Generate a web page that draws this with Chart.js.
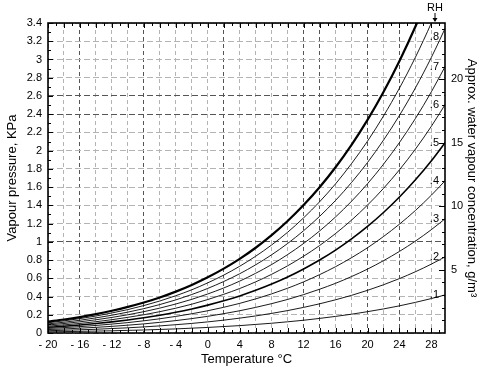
<!DOCTYPE html>
<html>
<head>
<meta charset="utf-8">
<script src="https://cdn.jsdelivr.net/npm/chart.js@4.4.0/dist/chart.umd.min.js"></script>
<style>
  html, body { margin: 0; padding: 0; background: #fff; }
  #wrap { width: 481px; height: 369px; }
</style>
</head>
<body>
<div id="wrap"><canvas id="chart" width="481" height="369"></canvas></div>
<script>
// temperature (°C) at which the curves are read
const temps = [-20, -18, -16, -14, -12, -10, -8, -6, -4, -2, 0, 2, 4, 6, 8, 10, 12, 14, 16, 18, 20, 22, 24, 26, 28, 30];

// vapour pressure (KPa) for each relative humidity
const rh100 = [0.125, 0.148, 0.175, 0.207, 0.244, 0.286, 0.334, 0.390, 0.454, 0.527, 0.611, 0.706, 0.813, 0.935, 1.073, 1.228, 1.403, 1.599, 1.818, 2.064, 2.338, 2.644, 2.984, 3.361, 3.780, 4.243];
const rh90 = [0.113, 0.133, 0.158, 0.186, 0.220, 0.257, 0.301, 0.351, 0.409, 0.474, 0.550, 0.635, 0.732, 0.842, 0.966, 1.105, 1.263, 1.439, 1.636, 1.858, 2.104, 2.380, 2.686, 3.025, 3.402, 3.819];
const rh80 = [0.100, 0.118, 0.140, 0.166, 0.195, 0.229, 0.267, 0.312, 0.363, 0.422, 0.489, 0.565, 0.650, 0.748, 0.858, 0.982, 1.122, 1.279, 1.454, 1.651, 1.870, 2.115, 2.387, 2.689, 3.024, 3.394];
const rh70 = [0.088, 0.104, 0.123, 0.145, 0.171, 0.200, 0.234, 0.273, 0.318, 0.369, 0.428, 0.494, 0.569, 0.655, 0.751, 0.860, 0.982, 1.119, 1.273, 1.445, 1.637, 1.851, 2.089, 2.353, 2.646, 2.970];
const rh60 = [0.075, 0.089, 0.105, 0.124, 0.146, 0.172, 0.200, 0.234, 0.272, 0.316, 0.367, 0.424, 0.488, 0.561, 0.644, 0.737, 0.842, 0.959, 1.091, 1.238, 1.403, 1.586, 1.790, 2.017, 2.268, 2.546];
const rh50 = [0.063, 0.074, 0.088, 0.104, 0.122, 0.143, 0.167, 0.195, 0.227, 0.264, 0.306, 0.353, 0.407, 0.468, 0.537, 0.614, 0.702, 0.800, 0.909, 1.032, 1.169, 1.322, 1.492, 1.681, 1.890, 2.122];
const rh40 = [0.050, 0.059, 0.070, 0.083, 0.098, 0.114, 0.134, 0.156, 0.182, 0.211, 0.244, 0.282, 0.325, 0.374, 0.429, 0.491, 0.561, 0.640, 0.727, 0.826, 0.935, 1.058, 1.194, 1.344, 1.512, 1.697];
const rh30 = [0.038, 0.044, 0.053, 0.062, 0.073, 0.086, 0.100, 0.117, 0.136, 0.158, 0.183, 0.212, 0.244, 0.281, 0.322, 0.368, 0.421, 0.480, 0.545, 0.619, 0.701, 0.793, 0.895, 1.008, 1.134, 1.273];
const rh20 = [0.025, 0.030, 0.035, 0.041, 0.049, 0.057, 0.067, 0.078, 0.091, 0.105, 0.122, 0.141, 0.163, 0.187, 0.215, 0.246, 0.281, 0.320, 0.364, 0.413, 0.468, 0.529, 0.597, 0.672, 0.756, 0.849];
const rh10 = [0.013, 0.015, 0.018, 0.021, 0.024, 0.029, 0.033, 0.039, 0.045, 0.053, 0.061, 0.071, 0.081, 0.094, 0.107, 0.123, 0.140, 0.160, 0.182, 0.206, 0.234, 0.264, 0.298, 0.336, 0.378, 0.424];

const curveNames = ['1', '.9', '.8', '.7', '.6', '.5', '.4', '.3', '.2', '.1'];
const curveValues = [rh100, rh90, rh80, rh70, rh60, rh50, rh40, rh30, rh20, rh10];
const labelledCurves = ['.8', '.7', '.6', '.5', '.4', '.3', '.2', '.1'];

// tick labels
const xTickLabels = [-20, -16, -12, -8, -4, 0, 4, 8, 12, 16, 20, 24, 28];
const concTickLabels = [5, 10, 15, 20];

const FONT = "'Liberation Sans', Arial, Helvetica, sans-serif";
const X_MAX = 29.7;
const CONC_MAX = 24.45;
const darkX = [-16, -8, 2, 12, 14, 20, 24];
const darkY = [1, 2.4, 2.6];

function fmtTemp(v) {
    return v < 0 ? '- ' + Math.abs(v) : String(v);
}

const datasets = curveNames.map((name, i) => ({
    label: name,
    data: temps.map((t, j) => ({ x: t, y: curveValues[i][j] })),
    borderColor: '#000',
    borderWidth: name === '1' ? 2.2 : (name === '.5' ? 1.6 : 0.9),
    pointRadius: 0,
    fill: false,
    cubicInterpolationMode: 'monotone'
}));

// frame, inward ticks and curve labels
const framePlugin = {
    id: 'frame',
    afterDatasetsDraw(chart) {
        const { ctx, chartArea: a, scales } = chart;
        const x = scales.x, y = scales.y, y2 = scales.y2;
        ctx.save();
        ctx.strokeStyle = '#000';
        ctx.lineWidth = 1;
        ctx.beginPath();
        for (let t = -20; t <= 29; t++) {
            const px = Math.round(x.getPixelForValue(t)) + 0.5;
            const len = t % 2 === 0 ? 5 : 3;
            ctx.moveTo(px, a.bottom); ctx.lineTo(px, a.bottom - len);
            ctx.moveTo(px, a.top); ctx.lineTo(px, a.top + len);
        }
        for (let k = 0; k <= 34; k++) {
            const py = Math.round(y.getPixelForValue(k / 10)) + 0.5;
            const len = k % 2 === 0 ? 5 : 3;
            ctx.moveTo(a.left, py); ctx.lineTo(a.left + len, py);
        }
        for (let g = 1; g <= 24; g++) {
            const py = Math.round(y2.getPixelForValue(g)) + 0.5;
            const len = g % 5 === 0 ? 6 : 3;
            ctx.moveTo(a.right, py); ctx.lineTo(a.right - len, py);
        }
        ctx.stroke();

        ctx.lineWidth = 1.6;
        ctx.strokeRect(a.left, a.top, a.right - a.left, a.bottom - a.top);

        // curve labels at the right edge
        ctx.fillStyle = '#000';
        ctx.font = '11px ' + FONT;
        ctx.textAlign = 'right';
        ctx.textBaseline = 'middle';
        chart.data.datasets.forEach(ds => {
            if (!labelledCurves.includes(ds.label)) return;
            const n = ds.data.length;
            const p0 = ds.data[n - 2], p1 = ds.data[n - 1];
            const v = p0.y + (p1.y - p0.y) * (X_MAX - p0.x) / (p1.x - p0.x);
            let py = y.getPixelForValue(v);
            py = Math.max(py, a.top + 14);
            ctx.fillText(ds.label, a.right - 6, py);
        });

        // RH marker
        const rx = a.right - 10;
        ctx.textAlign = 'center';
        ctx.textBaseline = 'middle';
        ctx.fillText('RH', rx, a.top - 15);
        ctx.lineWidth = 1;
        ctx.beginPath();
        ctx.moveTo(rx, a.top - 10); ctx.lineTo(rx, a.top - 2);
        ctx.stroke();
        ctx.beginPath();
        ctx.moveTo(rx - 2.5, a.top - 5); ctx.lineTo(rx + 2.5, a.top - 5); ctx.lineTo(rx, a.top - 1);
        ctx.closePath();
        ctx.fill();
        ctx.restore();
    }
};

new Chart(document.getElementById('chart').getContext('2d'), {
    type: 'line',
    data: { datasets: datasets },
    options: {
        responsive: false,
        animation: false,
        layout: { padding: { top: 23, left: 0, right: 0, bottom: 0 } },
        plugins: { legend: { display: false }, tooltip: { enabled: false } },
        scales: {
            x: {
                type: 'linear',
                min: -20,
                max: X_MAX,
                afterFit(s) { s.height = 36; },
                afterBuildTicks(s) {
                    s.ticks = temps.filter(t => t < X_MAX).map(t => ({ value: t }));
                },
                ticks: {
                    autoSkip: false,
                    maxRotation: 0,
                    padding: 5,
                    color: '#000',
                    font: { size: 11, family: FONT },
                    callback: v => xTickLabels.includes(v) ? fmtTemp(v) : ''
                },
                grid: {
                    drawTicks: false,
                    color: c => darkX.includes(c.tick.value) ? '#555' : '#b4b4b4'
                },
                border: { display: false, dash: [4, 3] },
                title: {
                    display: true,
                    text: 'Temperature °C',
                    color: '#000',
                    font: { size: 13, family: FONT },
                    padding: { top: 0, bottom: 2 }
                }
            },
            y: {
                min: 0,
                max: 3.4,
                afterFit(s) { s.width = 48; },
                ticks: {
                    stepSize: 0.2,
                    autoSkip: false,
                    padding: 6,
                    color: '#000',
                    font: { size: 11, family: FONT },
                    callback: v => String(+v.toFixed(1))
                },
                grid: {
                    drawTicks: false,
                    color: c => darkY.some(d => Math.abs(d - c.tick.value) < 1e-6) ? '#555' : '#b4b4b4'
                },
                border: { display: false, dash: [6, 3] },
                title: {
                    display: true,
                    text: 'Vapour pressure, KPa',
                    color: '#000',
                    font: { size: 13, family: FONT },
                    padding: { top: 5, bottom: 0 }
                }
            },
            y2: {
                position: 'right',
                min: 0,
                max: CONC_MAX,
                afterFit(s) { s.width = 36; },
                ticks: {
                    stepSize: 5,
                    autoSkip: false,
                    padding: 6,
                    color: '#000',
                    font: { size: 11, family: FONT },
                    callback: v => concTickLabels.includes(v) ? String(v) : ''
                },
                grid: { display: false, drawTicks: false },
                border: { display: false },
                title: {
                    display: true,
                    text: 'Approx. water vapour concentration, g/m³',
                    color: '#000',
                    font: { size: 13, family: FONT },
                    padding: { top: 2, bottom: 0 }
                }
            }
        }
    },
    plugins: [framePlugin]
});
</script>
</body>
</html>
